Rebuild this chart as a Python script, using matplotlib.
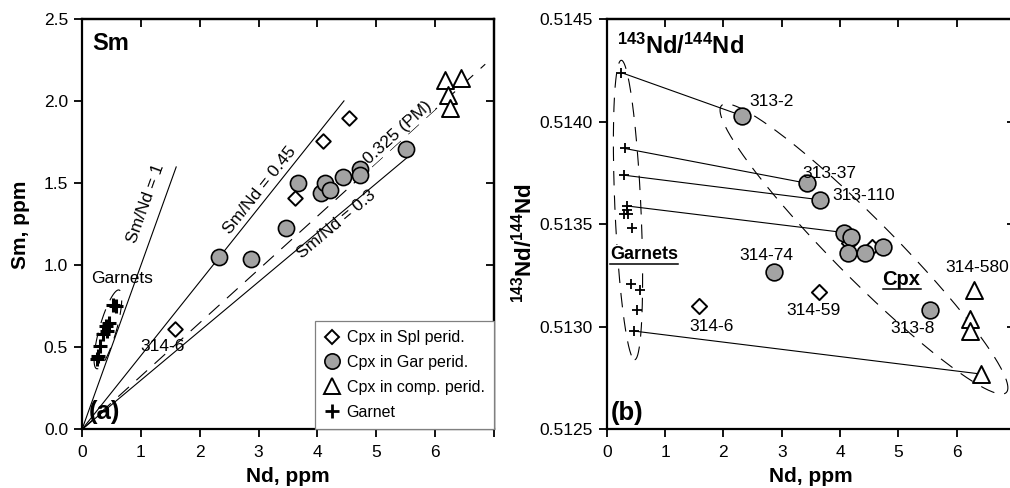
import numpy as np
import matplotlib
matplotlib.use("Agg")
import matplotlib.pyplot as plt
from matplotlib.lines import Line2D
from matplotlib.transforms import IdentityTransform

plt.rcParams['font.family'] = ['Liberation Sans', 'DejaVu Sans']
plt.rcParams['mathtext.fontset'] = 'custom'
plt.rcParams['mathtext.rm'] = 'Liberation Sans'
plt.rcParams['mathtext.bf'] = 'Liberation Sans:bold'

# ---- (a) Sm vs Nd, ppm ----
spl_nd_a = [1.58, 3.62, 4.09, 4.54]
spl_sm_a = [0.61, 1.41, 1.76, 1.90]
gar_nd_a = [2.33, 2.87, 3.46, 3.67, 4.06, 4.12, 4.21, 4.43, 4.72, 4.72, 5.51]
gar_sm_a = [1.05, 1.04, 1.23, 1.50, 1.44, 1.50, 1.46, 1.54, 1.59, 1.55, 1.71]
comp_nd_a = [6.17, 6.43, 6.22, 6.25]
comp_sm_a = [2.13, 2.14, 2.04, 1.96]
gnt_nd_a = [0.52, 0.58, 0.45, 0.40, 0.42, 0.36, 0.31, 0.27, 0.25]
gnt_sm_a = [0.76, 0.75, 0.65, 0.63, 0.60, 0.58, 0.51, 0.45, 0.43]

# reference Sm/Nd ratios and the Nd range each line spans
ratios = [1.0, 0.45, 0.3]
ratio_ends = [1.6, 4.45, 5.52]
pm_ratio = 0.325
pm_end = 6.85

# ---- (b) 143Nd/144Nd vs Nd, ppm ----
spl_nd_b = [1.58, 3.64, 4.15, 4.55]
spl_r_b = [0.51310, 0.51317, 0.51341, 0.51339]
gar_nd_b = [2.32, 3.44, 3.65, 4.07, 4.18, 4.14, 4.42, 4.74, 2.87, 5.55]
gar_r_b = [0.51403, 0.51370, 0.51362, 0.51346, 0.51344, 0.51336, 0.51336, 0.51339, 0.51327, 0.51308]
comp_nd_b = [6.29, 6.22, 6.22, 6.42]
comp_r_b = [0.51318, 0.51304, 0.51298, 0.51277]
gnt_nd_b = [0.25, 0.31, 0.29, 0.34, 0.30, 0.37, 0.35, 0.43, 0.42, 0.57, 0.52, 0.46]
gnt_r_b = [0.51424, 0.51387, 0.51374, 0.51359, 0.51355, 0.51355, 0.51357, 0.51348,
           0.51321, 0.51318, 0.51308, 0.51298]
# garnet -> coexisting cpx tie lines: (garnet index, cpx group, cpx index)
ties = [(0, 'gar', 0), (1, 'gar', 1), (2, 'gar', 2), (3, 'gar', 3), (11, 'comp', 3)]

x_ticks = [0, 1, 2, 3, 4, 5, 6, 7]
x_ticklabels = ['0', '1', '2', '3', '4', '5', '6', '']
sm_ticks = [0.0, 0.5, 1.0, 1.5, 2.0, 2.5]
nd_ticks = [0.5125, 0.5130, 0.5135, 0.5140, 0.5145]

FS_TICK = 12.5
FS_LAB = 15
FS_ANN = 12.5
GRAY = '#a3a3a3'
DASH = (13, 9)

fig = plt.figure(figsize=(10.10, 4.88), dpi=100)
ax1 = fig.add_axes([0.0812, 0.120, 0.408, 0.8405])
ax2 = fig.add_axes([0.6007, 0.120, 0.4043, 0.8405])


def style_axes(ax, xt, xtl, yt, ytl):
    ax.set_xticks(xt)
    ax.set_xticklabels(xtl)
    ax.set_yticks(yt)
    ax.set_yticklabels(ytl)
    ax.tick_params(direction='out', length=5.5, width=1.3, labelsize=FS_TICK,
                   top=False, right=False)
    ax.tick_params(axis='x', pad=5.5)
    ax.tick_params(axis='y', pad=4.5)
    for s in ax.spines.values():
        s.set_linewidth(1.6)
    sx = ax.secondary_xaxis('top')
    sx.set_xticks(xt[1:-1])
    sx.tick_params(direction='in', length=6, width=1.3, labeltop=False)
    sx.spines['top'].set_linewidth(1.6)
    sy = ax.secondary_yaxis('right')
    sy.set_yticks(yt[1:-1])
    sy.tick_params(direction='in', length=6, width=1.3, labelright=False)
    sy.spines['right'].set_linewidth(1.6)


def dashed_ellipse(ax, p0, p1, width_px):
    """Dashed ellipse whose long axis runs between data points p0 and p1."""
    fig.canvas.draw()
    a = ax.transData.transform(p0)
    b = ax.transData.transform(p1)
    c = (a + b) / 2
    d = b - a
    L = np.hypot(*d) / 2
    u = d / np.hypot(*d)
    v = np.array([-u[1], u[0]])
    t = np.linspace(0, 2 * np.pi, 300)
    pts = c + np.outer(L * np.cos(t), u) + np.outer(width_px / 2 * np.sin(t), v)
    ln = Line2D(pts[:, 0], pts[:, 1], transform=IdentityTransform(), color='black',
                lw=0.8, dashes=DASH, zorder=2)
    ln.set_clip_on(False)
    ax.add_artist(ln)


# ---------- panel (a) ----------
ax1.set_xlim(0, 7)
ax1.set_ylim(0, 2.5)
style_axes(ax1, x_ticks, x_ticklabels, sm_ticks, ['0.0', '0.5', '1.0', '1.5', '2.0', '2.5'])

for r, xe in zip(ratios, ratio_ends):
    ax1.plot([0, xe], [0, r * xe], color='black', lw=0.8, zorder=1)
ax1.plot([0, pm_end], [0, pm_ratio * pm_end], color='black', lw=0.8,
         dashes=DASH, zorder=1)

ax1.text(1.08, 1.38, 'Sm/Nd = 1', rotation=np.degrees(np.arctan(1.0)),
         transform_rotates_text=True, ha='center', va='center',
         rotation_mode='anchor', fontsize=FS_ANN)
ax1.text(3.02, 1.46, 'Sm/Nd = 0.45', rotation=np.degrees(np.arctan(0.45)),
         transform_rotates_text=True, ha='center', va='center',
         rotation_mode='anchor', fontsize=FS_ANN)
ax1.text(5.36, 1.81, '0.325 (PM)', rotation=np.degrees(np.arctan(0.325)),
         transform_rotates_text=True, ha='center', va='center',
         rotation_mode='anchor', fontsize=FS_ANN, zorder=3,
         bbox=dict(facecolor='white', edgecolor='none', pad=0.5))
ax1.text(4.33, 1.25, 'Sm/Nd = 0.3', rotation=np.degrees(np.arctan(0.3)),
         transform_rotates_text=True, ha='center', va='center',
         rotation_mode='anchor', fontsize=FS_ANN)

ax1.scatter(gnt_nd_a, gnt_sm_a, marker='+', s=110, color='black', linewidths=2.2, zorder=4)
ax1.scatter(spl_nd_a, spl_sm_a, marker='D', s=55, facecolor='white', edgecolor='black',
            linewidths=1.4, zorder=4)
ax1.scatter(gar_nd_a, gar_sm_a, marker='o', s=135, facecolor=GRAY, edgecolor='black',
            linewidths=1.2, zorder=5)
ax1.scatter(comp_nd_a, comp_sm_a, marker='^', s=150, facecolor='white', edgecolor='black',
            linewidths=1.4, zorder=5)

ax1.text(0.18, 2.35, 'Sm', fontsize=17, fontweight='bold', va='center')
ax1.text(0.11, 0.105, '(a)', fontsize=18.5, fontweight='bold', va='center')
ax1.text(0.68, 0.92, 'Garnets', fontsize=FS_ANN, ha='center', va='center')
ax1.text(1.37, 0.505, '314-6', fontsize=FS_ANN, ha='center', va='center')

ax1.set_xlabel('Nd, ppm', fontsize=FS_LAB, fontweight='bold', labelpad=5)
ax1.text(-0.150, 0.50, 'Sm, ppm', transform=ax1.transAxes, rotation=90,
         fontsize=FS_LAB, fontweight='bold', ha='center', va='center')

handles = [
    Line2D([], [], ls='none', marker='D', ms=7, mfc='white', mec='black', mew=1.4),
    Line2D([], [], ls='none', marker='o', ms=11, mfc=GRAY, mec='black', mew=1.2),
    Line2D([], [], ls='none', marker='^', ms=12, mfc='white', mec='black', mew=1.4),
    Line2D([], [], ls='none', marker='+', ms=10, color='black', mew=2.0),
]
labels = ['Cpx in Spl perid.', 'Cpx in Gar perid.', 'Cpx in comp. perid.', 'Garnet']
leg = ax1.legend(handles, labels, loc='lower right', borderaxespad=0, fontsize=11.5,
                 fancybox=False, edgecolor='#808080', framealpha=1, handletextpad=0.45,
                 handlelength=0.9, labelspacing=0.62, borderpad=0.6)
leg.get_frame().set_linewidth(0.9)
leg.set_zorder(6)

# ---------- panel (b) ----------
ax2.set_xlim(0, 7)
ax2.set_ylim(0.5125, 0.5145)
style_axes(ax2, x_ticks, x_ticklabels, nd_ticks, [f'{v:.4f}' for v in nd_ticks])

cpx_b = {'gar': (gar_nd_b, gar_r_b), 'comp': (comp_nd_b, comp_r_b)}
for gi, grp, ci in ties:
    cx, cy = cpx_b[grp]
    ax2.plot([gnt_nd_b[gi], cx[ci]], [gnt_r_b[gi], cy[ci]], color='black', lw=0.8, zorder=1)

ax2.scatter(gnt_nd_b, gnt_r_b, marker='+', s=60, color='black', linewidths=1.3, zorder=4)
ax2.scatter(spl_nd_b, spl_r_b, marker='D', s=60, facecolor='white', edgecolor='black',
            linewidths=1.4, zorder=4)
ax2.scatter(gar_nd_b, gar_r_b, marker='o', s=145, facecolor=GRAY, edgecolor='black',
            linewidths=1.2, zorder=5)
ax2.scatter(comp_nd_b, comp_r_b, marker='^', s=150, facecolor='white', edgecolor='black',
            linewidths=1.4, zorder=5)

sample_labels = [('313-2', 2.83, 0.51410), ('313-37', 3.81, 0.51375),
                 ('313-110', 4.41, 0.51364), ('314-74', 2.74, 0.51335),
                 ('314-59', 3.55, 0.51308), ('314-6', 1.79, 0.51300),
                 ('313-8', 5.25, 0.51299), ('314-580', 6.36, 0.51329)]
for txt, x, y in sample_labels:
    ax2.text(x, y, txt, fontsize=FS_ANN, ha='center', va='center', zorder=6)

ax2.text(0.06, 0.513352, 'Garnets', fontsize=13, fontweight='bold', va='center',
         ha='left', zorder=6,
         bbox=dict(facecolor='white', edgecolor='none', pad=1.0))
ax2.plot([0.06, 1.22], [0.513308, 0.513308], color='black', lw=1.1, zorder=7)
ax2.text(5.055, 0.51323, 'Cpx', fontsize=14.5, fontweight='bold', va='center', ha='center')
ax2.plot([4.73, 5.38], [0.513185, 0.513185], color='black', lw=1.1)

ax2.text(0.17, 0.51437, r'$\mathbf{^{143}Nd/^{144}Nd}$', fontsize=17, va='center')
ax2.text(0.07, 0.51258, '(b)', fontsize=18.5, fontweight='bold', va='center')

ax2.set_xlabel('Nd, ppm', fontsize=FS_LAB, fontweight='bold', labelpad=5)
ax2.text(-0.203, 0.454, r'$\mathbf{^{143}Nd/^{144}Nd}$', transform=ax2.transAxes,
         rotation=90, fontsize=16, ha='center', va='center')

# outlines of the garnet and cpx groups
dashed_ellipse(ax1, (0.25, 0.37), (0.63, 0.85), 17)
dashed_ellipse(ax2, (0.25, 0.51430), (0.48, 0.51284), 26)
dashed_ellipse(ax2, (1.97, 0.51408), (6.85, 0.51268), 60)

fig.savefig('out.png', dpi=100, facecolor='white')
